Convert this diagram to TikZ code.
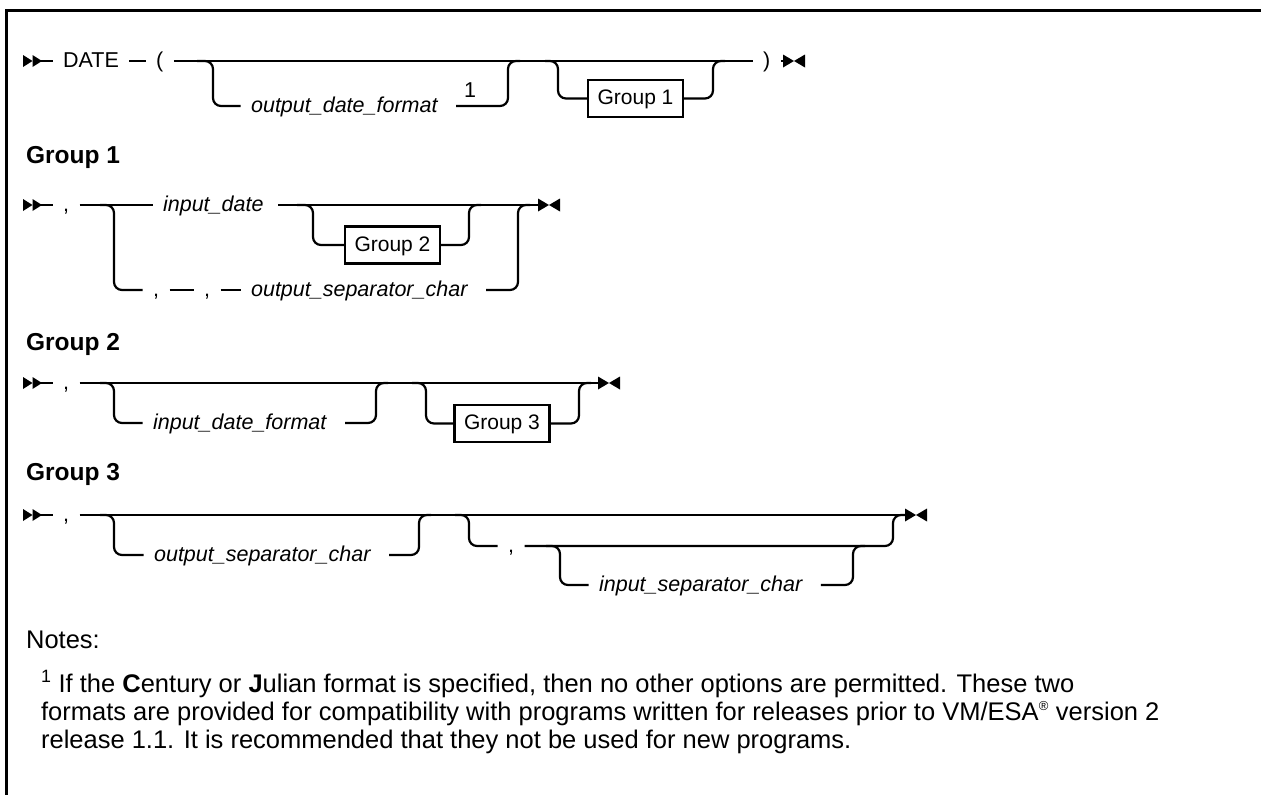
\documentclass[tikz,border=0pt]{standalone}
\usepackage{fontspec}
\setmainfont{Liberation Sans}
\begin{document}
\begin{tikzpicture}[x=1pt,y=-1pt,line width=2.2pt,
  lbl/.style={inner xsep=9.5pt,inner ysep=0pt,text height=16pt,text depth=4pt,anchor=west,font=\fontsize{21.5}{26}\selectfont},
  kw/.style={lbl},
  var/.style={lbl,font=\fontsize{21.5}{26}\selectfont\itshape},
  grp/.style={draw,line width=2.2pt,minimum width=95pt,minimum height=37pt,inner sep=0pt,text height=15pt,text depth=3pt,font=\fontsize{21}{26}\selectfont},
  hd/.style={anchor=base west,inner sep=0pt,font=\fontsize{24.5}{28}\selectfont\bfseries},
  nt/.style={anchor=base west,inner sep=0pt,font=\fontsize{25.5}{30}\selectfont},
  rc/.style={rounded corners=8pt}]
\useasboundingbox (0,0) rectangle (1261,795);
\draw[line width=3pt] (6.5,795) -- (6.5,10.5) -- (1261,10.5);

\tikzset{
  startsym/.pic={\fill (0,-6) -- (9.5,0) -- (0,6) -- cycle; \fill (9.5,-6) -- (19,0) -- (9.5,6) -- cycle;},
  endsym/.pic={\fill (0,-6.5) -- (11,0) -- (0,6.5) -- cycle; \fill (22,-6.5) -- (11,0) -- (22,6.5) -- cycle;}
}

% ================= Row 0 : DATE =================
\pic at (23,61) {startsym};
\coordinate (s0) at (41,61);
\node[kw] (date) at (52.5,61) {DATE};
\node[kw] (lp) at (145.5,61) {(};
\node[kw] (rp) at (752.5,61) {)};
\coordinate (e0) at (783,61);
\pic at (783,61) {endsym};
\draw (s0) -- (date.west);
\draw (date.east) -- (lp.west);
\draw (lp.east) -- (rp.west);
\draw (rp.east) -- (e0);
\node[var] (odf) at (240.5,106) {output\_date\_format};
\node[kw,anchor=base] (fn) at (470,97) {1};
\draw[rc] (197,61) -| (213,106) -- (odf.west);
\draw[rc] ([xshift=8pt]odf.east) -| (508,61) -- (520,61);
\node[grp] (g1) at (635.5,98.5) {Group 1};
\draw[rc] (545,61) -| (558,98.5) -- (g1.west);
\draw[rc] (g1.east) -| (713,61) -- (725,61);

% ================= Group 1 =================
\node[hd] (h1) at (25,163) {Group 1};
\pic at (23,205) {startsym};
\coordinate (s1) at (41,205);
\node[kw] (c1) at (52.5,205) {,};
\node[var] (id) at (152.5,205) {input\_date};
\coordinate (e1) at (538,205);
\pic at (538,205) {endsym};
\draw (s1) -- (c1.west);
\draw (c1.east) -- (id.west);
\draw ([xshift=4pt]id.east) -- (e1);
\node[kw] (c1b) at (142.5,290) {,};
\node[kw] (c1c) at (193.5,290) {,};
\node[var] (osc1) at (240.5,290) {output\_separator\_char};
\draw[rc] (100,205) -| (114,290) -- (c1b.west);
\draw (c1b.east) -- (c1c.west);
\draw (c1c.east) -- (osc1.west);
\draw[rc] ([xshift=8pt]osc1.east) -| (518,205) -- (530,205);
\node[grp] (g2) at (392.5,245) {Group 2};
\draw[rc] (297,205) -| (313,245) -- (g2.west);
\draw[rc] (g2.east) -| (469,205) -- (481,205);

% ================= Group 2 =================
\node[hd] (h2) at (25,350) {Group 2};
\pic at (23,383) {startsym};
\coordinate (s2) at (41,383);
\node[kw] (c2) at (52.5,383) {,};
\coordinate (e2) at (598,383);
\pic at (598,383) {endsym};
\draw (s2) -- (c2.west);
\draw (c2.east) -- (e2);
\node[var] (idf) at (142.5,423) {input\_date\_format};
\draw[rc] (100,383) -| (114,423) -- (idf.west);
\draw[rc] ([xshift=8pt]idf.east) -| (376,383) -- (388,383);
\node[grp] (g3) at (502,423.5) {Group 3};
\draw[rc] (412,383) -| (426,423.5) -- (g3.west);
\draw[rc] (g3.east) -| (579,383) -- (591,383);

% ================= Group 3 =================
\node[hd] (h3) at (25,480) {Group 3};
\pic at (23,515) {startsym};
\coordinate (s3) at (41,515);
\node[kw] (c3) at (52.5,515) {,};
\coordinate (e3) at (905,515);
\pic at (905,515) {endsym};
\draw (s3) -- (c3.west);
\draw (c3.east) -- (e3);
\node[var] (osc3) at (143.5,555) {output\_separator\_char};
\draw[rc] (100,515) -| (114,555) -- (osc3.west);
\draw[rc] ([xshift=8pt]osc3.east) -| (419,515) -- (431,515);
\node[kw] (c3b) at (497.5,546) {,};
\draw[rc] (455,515) -| (469,546) -- (c3b.west);
\draw[rc] (c3b.east) -| (893,515) -- (905,515);
\node[var] (isc) at (588.5,585) {input\_separator\_char};
\draw[rc] (546,546) -| (560,585) -- (isc.west);
\draw[rc] ([xshift=8pt]isc.east) -| (853,546) -- (865,546);

% ================= Notes =================
\node[nt] (notes) at (25,648) {Notes:};
\node[nt] (n1) at (40,692) {\textsuperscript{1} If the \textbf{C}entury or \textbf{J}ulian format is specified, then no other options are permitted. These two};
\node[nt] (n2) at (40,720) {formats are provided for compatibility with programs written for releases prior to VM/ESA\textsuperscript{\fontsize{13}{13}\selectfont\textregistered} version 2};
\node[nt] (n3) at (40,748) {release 1.1. It is recommended that they not be used for new programs.};
\end{tikzpicture}
\end{document}
